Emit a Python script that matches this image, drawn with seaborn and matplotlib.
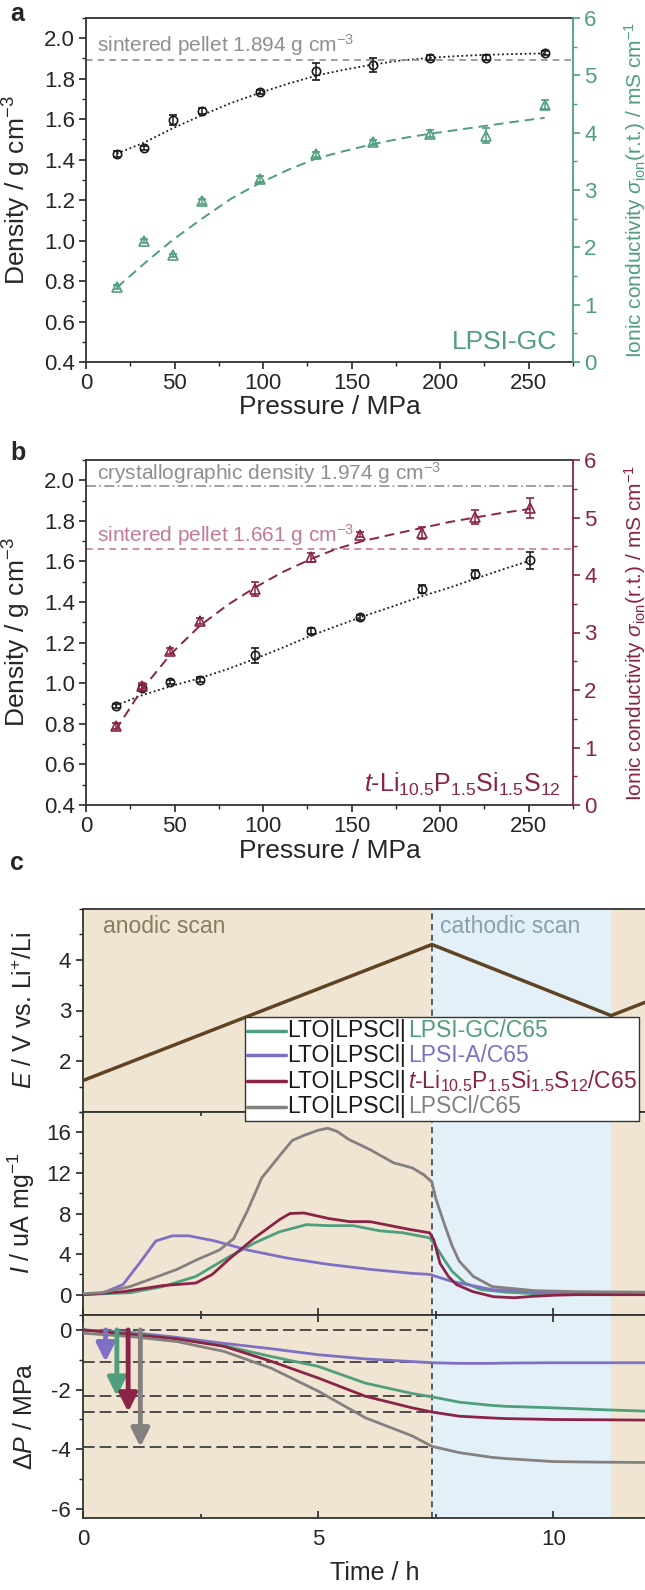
import numpy as np
import pandas as pd
import matplotlib
matplotlib.use("Agg")
import matplotlib.pyplot as plt
import seaborn as sns
from matplotlib.lines import Line2D
from matplotlib.offsetbox import TextArea, HPacker, VPacker, DrawingArea, AnchoredOffsetbox
from matplotlib.ticker import MultipleLocator

# ---------------- data ----------------
# panel a : LPSI-GC
a_pressure = [17.5, 33, 49, 65.5, 98, 130, 162, 194, 226, 259]
a_density = [1.428, 1.459, 1.595, 1.641, 1.734, 1.836, 1.866, 1.903, 1.903, 1.926]
a_density_err = [0.015, 0.01, 0.025, 0.015, 0.01, 0.04, 0.035, 0.012, 0.012, 0.01]
a_sigma = [1.31, 2.11, 1.86, 2.80, 3.19, 3.62, 3.83, 3.98, 3.95, 4.49]
a_sigma_err = [0.03, 0.03, 0.03, 0.05, 0.05, 0.04, 0.05, 0.06, 0.13, 0.08]
a_fit_p = [17.5, 33, 49, 65.5, 82, 98, 114, 130, 146, 162, 178, 194, 210, 226, 242, 259]
a_fit_density = [1.43, 1.485, 1.555, 1.62, 1.68, 1.73, 1.775, 1.815, 1.845, 1.87, 1.89, 1.903, 1.912, 1.918, 1.922, 1.925]
a_fit_sigma = [1.30, 1.72, 2.13, 2.50, 2.85, 3.12, 3.35, 3.55, 3.68, 3.80, 3.90, 3.98, 4.05, 4.12, 4.19, 4.26]

# panel b : t-Li10.5P1.5Si1.5S12
b_pressure = [16.7, 31.4, 47.7, 64.4, 95.3, 127.2, 155, 190, 219.8, 251]
b_density = [0.889, 0.976, 1.004, 1.017, 1.137, 1.259, 1.325, 1.465, 1.539, 1.605]
b_density_err = [0.01, 0.015, 0.01, 0.012, 0.035, 0.015, 0.012, 0.02, 0.02, 0.04]
b_sigma = [1.37, 2.07, 2.68, 3.20, 3.76, 4.31, 4.70, 4.73, 5.01, 5.17]
b_sigma_err = [0.05, 0.05, 0.05, 0.06, 0.12, 0.08, 0.04, 0.1, 0.12, 0.17]
b_fit_p = [16.7, 31.4, 47.7, 64.4, 80, 95.3, 111, 127.2, 141, 155, 172, 190, 205, 219.8, 235, 251]
b_fit_density = [0.89, 0.94, 0.985, 1.025, 1.07, 1.12, 1.175, 1.235, 1.28, 1.325, 1.375, 1.43, 1.47, 1.515, 1.56, 1.605]
b_fit_sigma = [1.30, 2.00, 2.62, 3.12, 3.48, 3.78, 4.05, 4.28, 4.45, 4.58, 4.70, 4.82, 4.92, 5.00, 5.08, 5.15]

# panel c : potential program
e_time = [0, 7.42, 11.23, 11.95]
e_volt = [1.62, 4.3, 2.9, 3.16]

# panel c : current
i_gray_t = [0, 0.4, 1.0, 1.3, 2.0, 2.4, 2.9, 3.2, 3.5, 3.8, 4.2, 4.45, 4.7, 5.0, 5.2, 5.4, 5.65, 6.1, 6.6, 7.0, 7.25, 7.42, 7.5, 7.68, 7.85, 8.0, 8.3, 8.7, 9.6, 10.5, 11.95]
i_gray = [0.1, 0.2, 0.8, 1.3, 2.5, 3.4, 4.4, 5.5, 8.3, 11.5, 13.8, 15.2, 15.7, 16.2, 16.4, 16.1, 15.3, 14.3, 13.0, 12.5, 11.8, 11.1, 9.5, 7.0, 4.8, 3.3, 1.8, 0.8, 0.4, 0.3, 0.25]
i_red_t = [0, 0.85, 1.7, 2.4, 2.75, 3.13, 3.65, 4.18, 4.4, 4.7, 5.23, 5.67, 6.1, 6.54, 6.98, 7.37, 7.46, 7.59, 7.77, 7.94, 8.29, 8.73, 9.17, 9.6, 10.04, 10.48, 11.95]
i_red = [0, 0.3, 0.9, 1.15, 2.0, 3.6, 5.6, 7.4, 8.0, 8.05, 7.5, 7.2, 7.2, 6.8, 6.4, 6.1, 5.4, 3.1, 1.8, 1.0, 0.3, -0.2, -0.3, -0.15, -0.05, 0.0, 0.0]
i_green_t = [0, 1.0, 1.7, 2.4, 3.13, 3.65, 4.18, 4.75, 5.23, 5.75, 6.3, 6.8, 7.37, 7.5, 7.68, 7.85, 8.12, 8.47, 9.0, 9.6, 11.95]
i_green = [0, 0.2, 0.8, 1.8, 3.8, 5.1, 6.2, 6.9, 6.8, 6.8, 6.3, 6.1, 5.6, 4.8, 3.45, 2.3, 1.15, 0.5, 0.25, 0.1, 0.05]
i_purple_t = [0, 0.41, 0.85, 1.2, 1.55, 1.9, 2.25, 2.8, 3.5, 4.35, 5.2, 6.1, 7.0, 7.37, 7.85, 8.7, 9.6, 10.5, 11.95]
i_purple = [0, 0.15, 1.0, 3.1, 5.3, 5.8, 5.8, 5.3, 4.4, 3.6, 3.0, 2.5, 2.1, 2.0, 1.3, 0.5, 0.3, 0.2, 0.1]

# panel c : pressure change
dp_t = [0, 1, 2, 3, 4, 5, 6, 7, 7.42, 8, 8.7, 9, 10, 11, 11.95]
dp_purple = [0, -0.08, -0.25, -0.45, -0.63, -0.83, -0.97, -1.06, -1.1, -1.12, -1.12, -1.11, -1.1, -1.1, -1.1]
dp_green = [0, -0.12, -0.3, -0.53, -0.89, -1.22, -1.78, -2.13, -2.24, -2.42, -2.53, -2.56, -2.61, -2.67, -2.72]
dp_red = [0, -0.15, -0.3, -0.55, -1.05, -1.61, -2.22, -2.61, -2.75, -2.89, -2.95, -2.97, -3.0, -3.01, -3.02]
dp_gray = [-0.11, -0.22, -0.39, -0.72, -1.28, -2.05, -2.94, -3.55, -3.9, -4.11, -4.27, -4.31, -4.41, -4.43, -4.44]
dp_levels = [0, -1.07, -2.22, -2.75, -3.92]
arrow_t = [0.48, 0.72, 0.96, 1.22]
arrow_end = [-1.07, -2.22, -2.75, -3.92]

# ---------------- style ----------------
sns.set_theme(style="ticks")
plt.rcParams["font.family"] = ["Liberation Sans", "DejaVu Sans"]
plt.rcParams["mathtext.fontset"] = "custom"
plt.rcParams["mathtext.rm"] = "Liberation Sans"
plt.rcParams["mathtext.it"] = "Liberation Sans:italic"
plt.rcParams["mathtext.bf"] = "Liberation Sans:bold"
plt.rcParams["axes.linewidth"] = 1.3
plt.rcParams["axes.edgecolor"] = "#333333"

GREEN = "#4f9e7c"
RED = "#8b2346"
PURPLE = "#7f70c4"
GRAY = "#858080"
BROWN = "#5e4423"
BEIGE = "#efe5d2"
BLUE = "#e3f0f8"
PINK = "#c27a98"
LGRAY = "#8f8f8f"

TICK = 16
LABEL = 18

W, H = 645, 1590
fig = plt.figure(figsize=(W / 100, H / 100), dpi=100)


def rect(left, top, right, bottom):
    return [left / W, 1 - bottom / H, (right - left) / W, (bottom - top) / H]


def pressure_panel(top, bottom, p, dens, dens_err, sig, sig_err, fit_p, fit_d, fit_s, color):
    ax = fig.add_axes(rect(86, top, 573, bottom))
    ax2 = ax.twinx()
    ax.set_xlim(0, 275)
    ax.set_ylim(0.4, 2.1)
    ax2.set_ylim(0, 6)
    sns.lineplot(x=fit_p, y=fit_d, ax=ax, color="k", linestyle=(0, (1, 1.5)), lw=1.3)
    ax.errorbar(p, dens, yerr=dens_err, fmt="o", mfc="none", mec="k", ecolor="k",
                ms=6, mew=1.2, capsize=3, elinewidth=1.1, zorder=5)
    sns.lineplot(x=fit_p, y=fit_s, ax=ax2, color=color, linestyle=(0, (5, 3)), lw=1.4)
    ax2.errorbar(p, sig, yerr=sig_err, fmt="^", mfc="none", mec=color, ecolor=color,
                 ms=6.5, mew=1.2, capsize=3, elinewidth=1.1, zorder=5)
    ax.set_yticks(np.arange(0.4, 2.01, 0.2))
    ax.yaxis.set_minor_locator(MultipleLocator(0.1))
    ax.set_xticks(range(0, 251, 50))
    ax.xaxis.set_minor_locator(MultipleLocator(25))
    ax2.set_yticks(range(0, 7))
    ax2.yaxis.set_minor_locator(MultipleLocator(0.5))
    ax.tick_params(which="major", direction="out", length=5, width=1.2, labelsize=TICK, pad=3)
    ax.tick_params(which="minor", direction="out", length=3, width=1.0)
    ax2.tick_params(which="major", direction="out", length=5, width=1.2, labelsize=TICK,
                    colors=color, pad=3)
    ax2.tick_params(which="minor", direction="out", length=3, width=1.0, colors=color)
    ax.spines["right"].set_visible(False)
    ax2.spines["right"].set_color(color)
    ax2.spines["left"].set_visible(False)
    ax2.spines["top"].set_visible(False)
    ax2.spines["bottom"].set_visible(False)
    ax.set_xlabel("Pressure / MPa", fontsize=19, labelpad=1)
    ax.set_ylabel("Density / g cm$^{-3}$", fontsize=19)
    ax.yaxis.set_label_coords(-0.108, 0.5)
    ax2.set_ylabel(r"Ionic conductivity $\sigma_{\rm ion}$(r.t.) / mS cm$^{-1}$",
                   fontsize=15, color=color, rotation=90)
    ax2.yaxis.set_label_coords(1.1, 0.5)
    return ax, ax2


# ---------------- panel a ----------------
ax_a, ax_a2 = pressure_panel(18, 362, a_pressure, a_density, a_density_err, a_sigma, a_sigma_err,
                             a_fit_p, a_fit_density, a_fit_sigma, GREEN)
ax_a.axhline(1.894, color=LGRAY, ls=(0, (4, 3)), lw=1.2)
ax_a.text(6, 1.968, "sintered pellet 1.894 g cm$^{-3}$", color=LGRAY, fontsize=15, va="center")
ax_a.text(266, 0.5, "LPSI-GC", color=GREEN, fontsize=19, ha="right", va="center")

# ---------------- panel b ----------------
ax_b, ax_b2 = pressure_panel(460, 805, b_pressure, b_density, b_density_err, b_sigma, b_sigma_err,
                             b_fit_p, b_fit_density, b_fit_sigma, RED)
ax_b.axhline(1.974, color=LGRAY, ls=(0, (6, 2, 1, 2)), lw=1.2)
ax_b.axhline(1.661, color=PINK, ls=(0, (4, 3)), lw=1.2)
ax_b.text(6, 2.035, "crystallographic density 1.974 g cm$^{-3}$", color=LGRAY, fontsize=15, va="center")
ax_b.text(6, 1.728, "sintered pellet 1.661 g cm$^{-3}$", color=PINK, fontsize=15, va="center")
ax_b.text(268, 0.5, "$t$-Li$_{10.5}$P$_{1.5}$Si$_{1.5}$S$_{12}$", color=RED, fontsize=18,
          ha="right", va="center")

# ---------------- panel c ----------------
ax_e = fig.add_axes(rect(83, 909, 645, 1112))
ax_i = fig.add_axes(rect(83, 1112, 645, 1315))
ax_p = fig.add_axes(rect(83, 1315, 645, 1518))
t_turn, t_end, t_max = 7.42, 11.23, 11.95

for ax in (ax_e, ax_i, ax_p):
    ax.axvspan(0, t_turn, color=BEIGE, lw=0, zorder=0)
    ax.axvspan(t_turn, t_end, color=BLUE, lw=0, zorder=0)
    ax.axvspan(t_end, t_max, color=BEIGE, lw=0, zorder=0)
    ax.axvline(t_turn, color="#333333", ls=(0, (4, 3)), lw=1.1, zorder=1)
    ax.set_xlim(0, t_max)
    ax.set_xticks([0, 5, 10])
    ax.xaxis.set_minor_locator(MultipleLocator(2.5))
    ax.tick_params(axis="y", which="major", direction="out", length=5, width=1.2, labelsize=TICK)
    ax.tick_params(axis="y", which="minor", direction="out", length=3, width=1.0)
    ax.tick_params(axis="x", which="both", direction="in", top=True, bottom=True,
                   labelbottom=False, width=1.2)
    ax.tick_params(axis="x", which="major", length=5)
    ax.tick_params(axis="x", which="minor", length=3)
    ax.spines["right"].set_visible(False)

ax_e.tick_params(axis="x", which="both", length=0)

# potential
sns.lineplot(x=e_time, y=e_volt, ax=ax_e, color=BROWN, lw=2.5, zorder=3)
ax_e.set_ylim(1, 5)
ax_e.set_yticks([2, 3, 4])
ax_e.yaxis.set_minor_locator(MultipleLocator(0.5))
ax_e.set_ylabel("$E$ / V vs. Li$^{+}$/Li", fontsize=LABEL)
ax_e.text(0.42, 4.66, "anodic scan", color="#8a7b5e", fontsize=16.5, va="center")
ax_e.text(7.6, 4.66, "cathodic scan", color="#86a0ac", fontsize=16.5, va="center")

# current
curves_i = [(i_green_t, i_green, GREEN), (i_purple_t, i_purple, PURPLE),
            (i_red_t, i_red, RED), (i_gray_t, i_gray, GRAY)]
for tt, yy, col in curves_i:
    sns.lineplot(x=tt, y=yy, ax=ax_i, color=col, lw=2.0, zorder=3)
ax_i.set_ylim(-2, 18)
ax_i.set_yticks([0, 4, 8, 12, 16])
ax_i.yaxis.set_minor_locator(MultipleLocator(2))
ax_i.set_ylabel("$I$ / uA mg$^{-1}$", fontsize=LABEL)

# pressure change
for lvl in dp_levels:
    ax_p.hlines(lvl, 0, t_turn, color="#333333", ls=(0, (7, 3)), lw=1.2, zorder=2)
curves_p = [(dp_purple, PURPLE), (dp_green, GREEN), (dp_red, RED), (dp_gray, GRAY)]
for yy, col in curves_p:
    sns.lineplot(x=dp_t, y=yy, ax=ax_p, color=col, lw=2.0, zorder=3)
for xa, ya, (_, col) in zip(arrow_t, arrow_end, curves_p):
    ax_p.annotate("", xy=(xa, ya), xytext=(xa, 0),
                  arrowprops=dict(arrowstyle="-|>,head_length=0.9,head_width=0.45",
                                  color=col, lw=3.5, shrinkA=0, shrinkB=0), zorder=4)
ax_p.set_ylim(-6.3, 0.5)
ax_p.set_yticks([0, -2, -4, -6])
ax_p.set_yticklabels(["0", "-2", "-4", "-6"])
ax_p.yaxis.set_minor_locator(MultipleLocator(1))
ax_p.set_ylabel(r"$\Delta P$ / MPa", fontsize=LABEL)
ax_p.tick_params(axis="x", labelbottom=True, labelsize=TICK, pad=8)
fig.text(375 / W, 1 - 1573 / H, "Time / h", fontsize=LABEL, ha="center", va="center")

for ax in (ax_e, ax_i, ax_p):
    ax.yaxis.set_label_coords(-0.082, 0.5)

# legend with two-coloured labels
suffixes = ["LPSI-GC/C65", "LPSI-A/C65",
            "$t$-Li$_{10.5}$P$_{1.5}$Si$_{1.5}$S$_{12}$/C65", "LPSCl/C65"]
rows = []
for (_, _, col), suf in zip(curves_i, suffixes):
    da = DrawingArea(28, 10, 0, 0)
    da.add_artist(Line2D([0, 28], [5, 5], color=col, lw=2.5))
    t1 = TextArea("LTO|LPSCl|", textprops=dict(color="k", fontsize=16.5))
    t2 = TextArea(suf, textprops=dict(color=col, fontsize=16.5))
    rows.append(HPacker(children=[da, t1, t2], pad=0, sep=1, align="center"))
box = VPacker(children=rows, pad=0, sep=1, align="left")
leg = AnchoredOffsetbox(loc="upper left", child=box, pad=0.15, borderpad=0, frameon=True,
                        bbox_to_anchor=(245 / W, 1 - 1017 / H), bbox_transform=fig.transFigure)
leg.patch.set_edgecolor("#333333")
leg.patch.set_facecolor("white")
leg.patch.set_linewidth(1.0)
leg.set_zorder(20)
fig.add_artist(leg)

# panel letters
fig.text(10 / W, 1 - 14 / H, "a", fontsize=18, fontweight="bold", va="center")
fig.text(10 / W, 1 - 453 / H, "b", fontsize=18, fontweight="bold", va="center")
fig.text(10 / W, 1 - 863 / H, "c", fontsize=18, fontweight="bold", va="center")

fig.savefig("out.png", dpi=100)
